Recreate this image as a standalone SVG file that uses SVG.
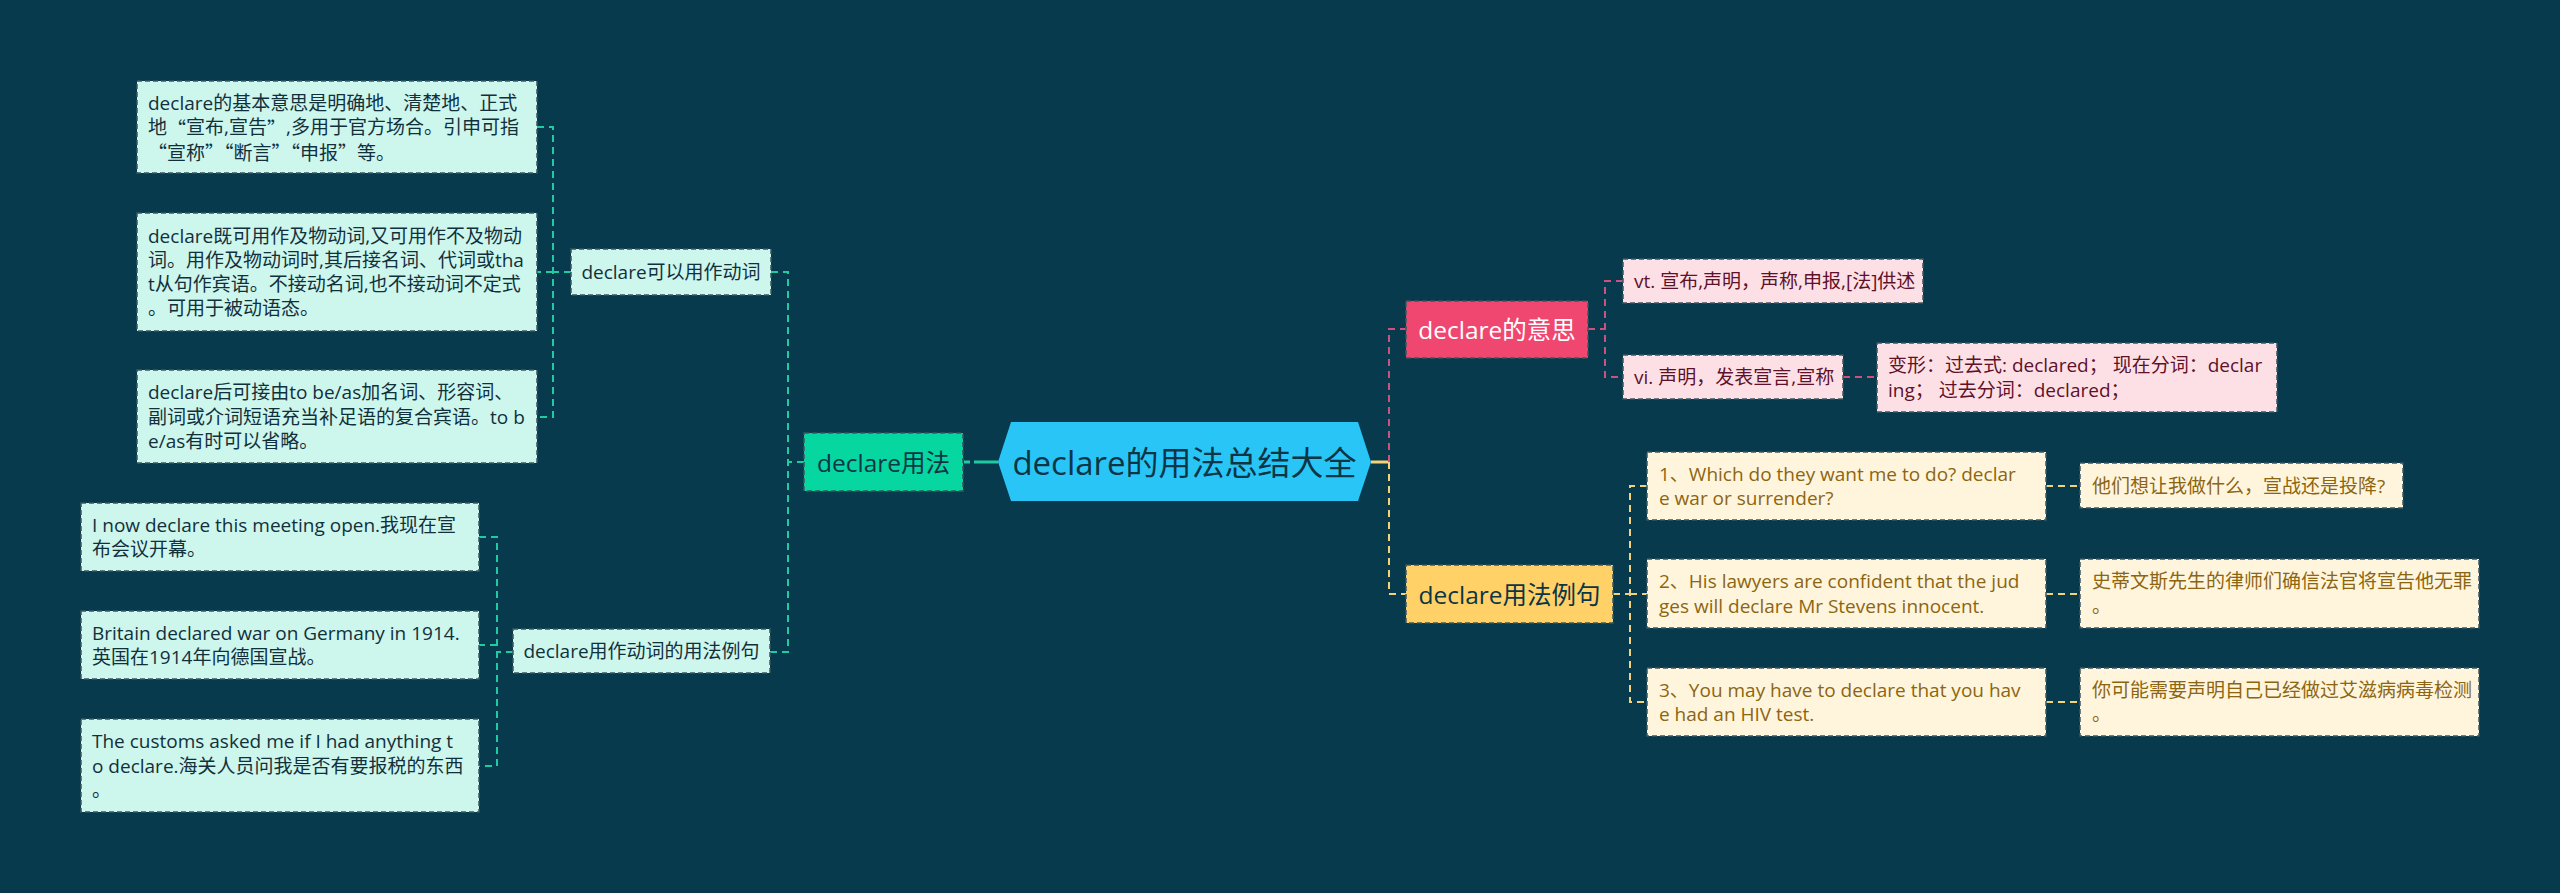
<svg xmlns="http://www.w3.org/2000/svg" width="2560" height="893" viewBox="0 0 2560 893">
<style>
text{font-family:"Open Sans","Noto Sans CJK SC",sans-serif;dominant-baseline:central}
.cjk{font-family:"Noto Sans CJK SC",sans-serif}
.leaf{stroke:#3b5560;stroke-width:1.5;stroke-dasharray:5 3}
.tl{fill:#cdf6ed}
.tt{fill:#12303c;font-size:19px}
.pl{fill:#fde0e6}
.pt{fill:#5e1129;font-size:19px}
.yl{fill:#fff5dc}
.yt{fill:#8c6512;font-size:19px}
.sub{font-size:24.5px}
.ct{stroke-width:2;fill:none;stroke-dasharray:7 5}
.teal{stroke:#1fcca2}
.pink{stroke:#cf4f7d}
.yel{stroke:#f3d27a}
</style>
<rect width="2560" height="893" fill="#073a4d"/>
<g id="connectors">
  <path class="teal" d="M998,462 H963" stroke-width="3" stroke-dasharray="24 4 6 4" fill="none"/>
  <path class="ct teal" d="M804,462 H788 M771,272 H788 V652 H770"/>
  <path class="ct teal" d="M571,272 H553 M537,127 H553 V417 H537 M553,272 H537"/>
  <path class="ct teal" d="M513,652 H497 M479,537 H497 V766 H479 M497,645 H479"/>
  <path class="yel" d="M1371,462 H1389" stroke-width="3" fill="none"/>
  <path class="ct pink" d="M1389,462 V329 H1406"/>
  <path class="ct yel" d="M1389,462 V594 H1406"/>
  <path class="ct pink" d="M1588,329 H1605 M1623,281 H1605 V377 H1623"/>
  <path class="ct pink" d="M1843,377 H1877"/>
  <path class="ct yel" d="M1613,594 H1630 M1647,486 H1630 V702 H1647 M1630,594 H1647"/>
  <path class="ct yel" d="M2046,486 H2080 M2046,594 H2080 M2046,702 H2080"/>
</g>
<g id="root">
  <polygon points="998,462 1011,422 1358,422 1371,462 1358,501 1011,501" fill="#29c5f6"/>
  <text x="1184.5" y="462" text-anchor="middle" font-size="33" fill="#0c3546">declare的用法总结大全</text>
</g>
<g id="usage">
  <rect x="804" y="433" width="159" height="58" fill="#06d6a0" class="leaf" stroke="#0a7a60"/>
  <text x="883.5" y="462" text-anchor="middle" class="sub" fill="#0c3546">declare用法</text>
</g>
<g id="verb">
  <rect x="571" y="249" width="200" height="46" class="leaf tl"/>
  <text x="671" y="272" text-anchor="middle" class="tt">declare可以用作动词</text>
</g>
<g id="verb-1">
  <rect x="137" y="81" width="400" height="92" class="leaf tl"/>
  <text class="tt" x="148"><tspan x="148" y="102.7">declare的基本意思是明确地、清楚地、正式</tspan><tspan x="148" y="127">地<tspan class="cjk">“</tspan>宣布,宣告<tspan class="cjk">”</tspan>,多用于官方场合。引申可指</tspan><tspan x="148" y="151.3" class="cjk">“宣称”“断言”“申报”等。</tspan></text>
</g>
<g id="verb-2">
  <rect x="137" y="213" width="400" height="118" class="leaf tl"/>
  <text class="tt" x="148"><tspan x="148" y="235.5">declare既可用作及物动词,又可用作不及物动</tspan><tspan x="148" y="259.8">词。用作及物动词时,其后接名词、代词或tha</tspan><tspan x="148" y="284.1">t从句作宾语。不接动名词,也不接动词不定式</tspan><tspan x="148" y="308.4">。可用于被动语态。</tspan></text>
</g>
<g id="verb-3">
  <rect x="137" y="370" width="400" height="93" class="leaf tl"/>
  <text class="tt" x="148"><tspan x="148" y="392.2">declare后可接由to be/as加名词、形容词、</tspan><tspan x="148" y="416.5">副词或介词短语充当补足语的复合宾语。to b</tspan><tspan x="148" y="440.8">e/as有时可以省略。</tspan></text>
</g>
<g id="examples">
  <rect x="513" y="629" width="257" height="44" class="leaf tl"/>
  <text x="641.5" y="651" text-anchor="middle" class="tt">declare用作动词的用法例句</text>
</g>
<g id="ex-1">
  <rect x="81" y="503" width="398" height="68" class="leaf tl"/>
  <text class="tt"><tspan x="92" y="524.8">I now declare this meeting open.我现在宣</tspan><tspan x="92" y="549.2">布会议开幕。</tspan></text>
</g>
<g id="ex-2">
  <rect x="81" y="611" width="398" height="68" class="leaf tl"/>
  <text class="tt"><tspan x="92" y="632.8">Britain declared war on Germany in 1914.</tspan><tspan x="92" y="657.2">英国在1914年向德国宣战。</tspan></text>
</g>
<g id="ex-3">
  <rect x="81" y="719" width="398" height="93" class="leaf tl"/>
  <text class="tt"><tspan x="92" y="741.2">The customs asked me if I had anything t</tspan><tspan x="92" y="765.5">o declare.海关人员问我是否有要报税的东西</tspan><tspan x="92" y="789.8">。</tspan></text>
</g>
<g id="meaning">
  <rect x="1406" y="301" width="182" height="57" fill="#ef476f" class="leaf" stroke="#9c2246"/>
  <text x="1497" y="329.5" text-anchor="middle" class="sub" fill="#ffffff">declare的意思</text>
</g>
<g id="vt">
  <rect x="1623" y="259" width="300" height="44" class="leaf pl"/>
  <text x="1634" y="281" class="pt">vt. 宣布,声明，声称,申报,[法]供述</text>
</g>
<g id="vi">
  <rect x="1623" y="355" width="220" height="44" class="leaf pl"/>
  <text x="1634" y="377" class="pt">vi. 声明，发表宣言,宣称</text>
</g>
<g id="forms">
  <rect x="1877" y="343" width="400" height="69" class="leaf pl"/>
  <text class="pt"><tspan x="1888" y="365.3">变形：过去式: declared；  现在分词：declar</tspan><tspan x="1888" y="389.6">ing；  过去分词：declared；</tspan></text>
</g>
<g id="sentences">
  <rect x="1406" y="565" width="207" height="58" fill="#ffd166" class="leaf" stroke="#a88a30"/>
  <text x="1509.5" y="594" text-anchor="middle" class="sub" fill="#0c3546">declare用法例句</text>
</g>
<g id="s-1">
  <rect x="1647" y="452" width="399" height="68" class="leaf yl"/>
  <text class="yt"><tspan x="1659" y="473.8">1、Which do they want me to do? declar</tspan><tspan x="1659" y="498.2">e war or surrender?</tspan></text>
</g>
<g id="s-1-zh">
  <rect x="2080" y="463" width="323" height="45" class="leaf yl"/>
  <text x="2092" y="485.5" class="yt">他们想让我做什么，宣战还是投降?</text>
</g>
<g id="s-2">
  <rect x="1647" y="559" width="399" height="69" class="leaf yl"/>
  <text class="yt"><tspan x="1659" y="581.3">2、His lawyers are confident that the jud</tspan><tspan x="1659" y="605.7">ges will declare Mr Stevens innocent.</tspan></text>
</g>
<g id="s-2-zh">
  <rect x="2080" y="559" width="399" height="69" class="leaf yl"/>
  <text class="yt"><tspan x="2092" y="581.3">史蒂文斯先生的律师们确信法官将宣告他无罪</tspan><tspan x="2092" y="605.7">。</tspan></text>
</g>
<g id="s-3">
  <rect x="1647" y="668" width="399" height="68" class="leaf yl"/>
  <text class="yt"><tspan x="1659" y="689.8">3、You may have to declare that you hav</tspan><tspan x="1659" y="714.2">e had an HIV test.</tspan></text>
</g>
<g id="s-3-zh">
  <rect x="2080" y="668" width="399" height="68" class="leaf yl"/>
  <text class="yt"><tspan x="2092" y="689.8">你可能需要声明自己已经做过艾滋病病毒检测</tspan><tspan x="2092" y="714.2">。</tspan></text>
</g>
</svg>
